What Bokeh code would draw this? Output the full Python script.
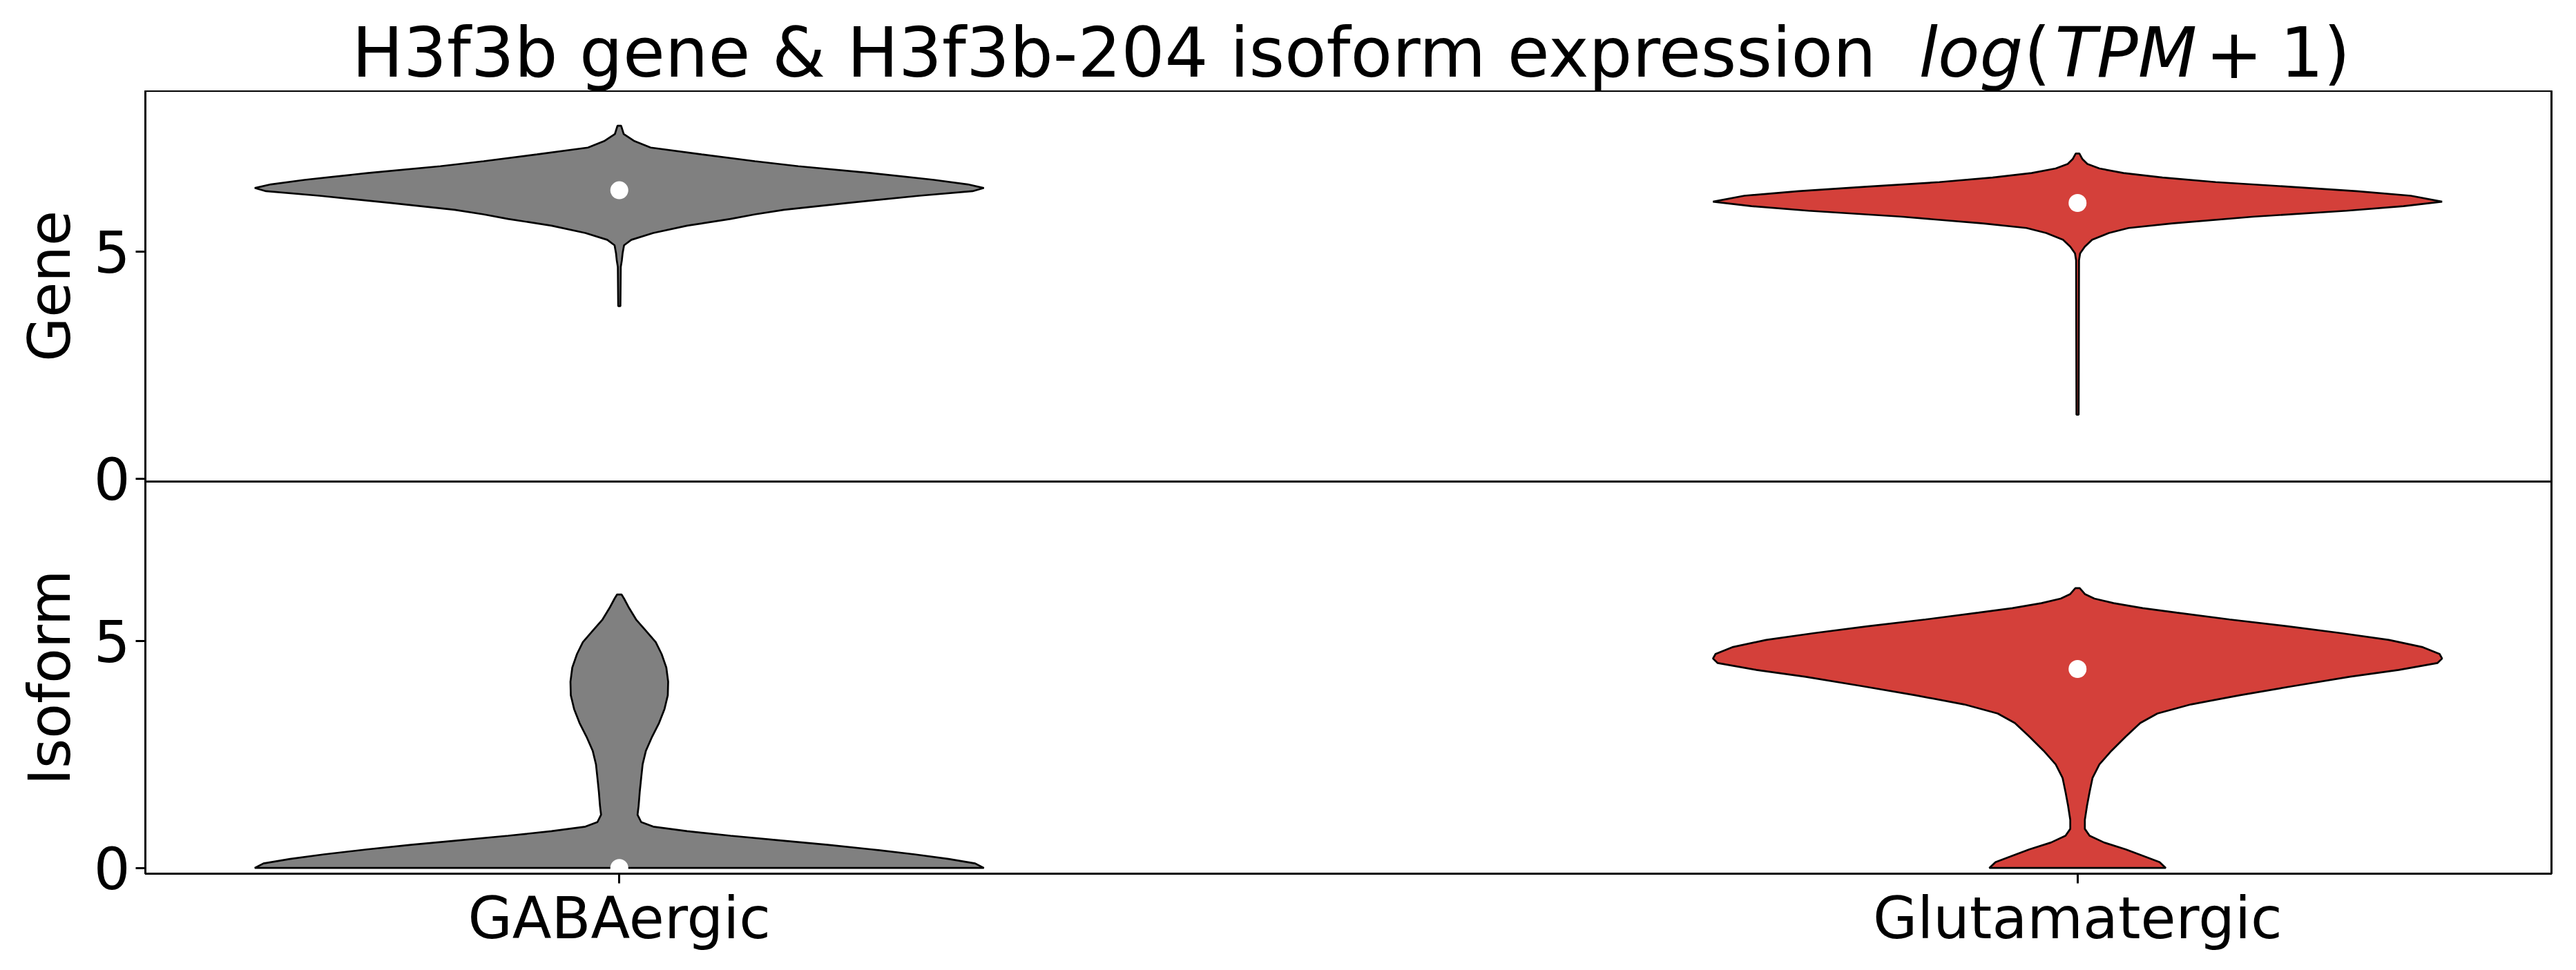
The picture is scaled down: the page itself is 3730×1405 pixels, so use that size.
from bokeh.plotting import figure
from bokeh.layouts import column
from bokeh.models import Range1d, FixedTicker, Span, LinearAxis
from bokeh.core.properties import value
from bokeh.embed import file_html
from bokeh.resources import INLINE

# ---------------- data ----------------
categories = ["GABAergic", "Glutamatergic"]
positions = [0, 1]
colors = ["#808080", "#d4403a"]

# violin outlines: expression value and relative half-width (1 = widest)
gene_gaba_y = [3.80, 4.66, 4.81, 4.96, 5.14, 5.26, 5.41, 5.57, 5.72, 5.82, 5.92, 6.07,
               6.23, 6.33, 6.40, 6.48, 6.58, 6.73, 6.88, 6.99, 7.14, 7.29, 7.44, 7.59, 7.77]
gene_gaba_w = [0.003, 0.004, 0.007, 0.009, 0.013, 0.033, 0.093, 0.186, 0.305, 0.372, 0.452, 0.624,
               0.823, 0.969, 1.0, 0.956, 0.863, 0.69, 0.491, 0.372, 0.226, 0.086, 0.04, 0.012, 0.005]

gene_glut_y = [1.41, 4.81, 4.96, 5.11, 5.26, 5.41, 5.52, 5.62, 5.77, 5.90, 6.00, 6.10,
               6.23, 6.33, 6.43, 6.53, 6.63, 6.73, 6.83, 6.93, 7.04, 7.16]
gene_glut_w = [0.003, 0.004, 0.007, 0.020, 0.040, 0.086, 0.140, 0.259, 0.485, 0.738, 0.894, 1.0,
               0.914, 0.765, 0.578, 0.379, 0.233, 0.126, 0.06, 0.027, 0.013, 0.005]

iso_gaba_y = [0.0, 0.10, 0.20, 0.30, 0.41, 0.51, 0.61, 0.71, 0.81, 0.91, 1.01, 1.17, 1.37,
              1.67, 1.98, 2.28, 2.58, 2.89, 3.19, 3.50, 3.80, 4.10, 4.41, 4.71, 4.97, 5.22,
              5.47, 5.72, 5.93, 6.02]
iso_gaba_w = [1.0, 0.976, 0.903, 0.810, 0.691, 0.571, 0.438, 0.305, 0.186, 0.093, 0.06, 0.050, 0.053,
              0.056, 0.060, 0.064, 0.073, 0.090, 0.109, 0.124, 0.133, 0.134, 0.129, 0.116, 0.10, 0.073,
              0.046, 0.027, 0.013, 0.006]

iso_glut_y = [0.0, 0.13, 0.25, 0.41, 0.56, 0.71, 0.86, 1.06, 1.37, 1.67, 1.98, 2.28, 2.58,
              2.89, 3.19, 3.40, 3.60, 3.80, 4.00, 4.21, 4.36, 4.51, 4.61, 4.71, 4.86, 5.02,
              5.17, 5.32, 5.47, 5.62, 5.72, 5.83, 5.93, 6.03, 6.16]
iso_glut_w = [0.242, 0.225, 0.185, 0.132, 0.073, 0.033, 0.020, 0.020, 0.026, 0.033, 0.041, 0.060, 0.093,
              0.132, 0.172, 0.219, 0.311, 0.444, 0.589, 0.748, 0.881, 0.987, 1.0, 0.993, 0.947, 0.854,
              0.722, 0.576, 0.417, 0.272, 0.179, 0.099, 0.046, 0.02, 0.006]

gene_medians = [6.35, 6.07]
iso_medians = [0.0, 4.38]

panel_labels = ["Gene", "Isoform"]
y_ticks = [0, 5]
title_main = "H3f3b gene & H3f3b-204 isoform expression"
title_math = ["log", "(", "TPM", "+", "1)"]
title_math_italic = [True, False, True, False, False]

# ---------------- layout / styling ----------------
FONT = "DejaVu Sans"
TITLE_SIZE = "99px"
HALF_WIDTH = 0.25
iso_lo, iso_hi = -0.126, 8.506      # lower panel (isoform) limits
gene_lo, gene_hi = -0.061, 8.54     # upper panel (gene) limits
OFF = iso_hi - gene_lo              # gene value v sits at v + OFF on the shared axis

L, R = 210, 36
FW = 3484
TITLE_H = 131
FH = 1134
BOTTOM = 140

p = figure(frame_width=FW, frame_height=FH,
           x_range=Range1d(-0.325, 1.325),
           y_range=Range1d(iso_lo, gene_hi + OFF),
           output_backend="svg", toolbar_location=None,
           min_border_left=L, min_border_right=R, min_border_top=0, min_border_bottom=BOTTOM)
p.extra_y_ranges = {"gene": Range1d(iso_lo - OFF, gene_hi)}
p.grid.visible = False
p.outline_line_color = "black"
p.outline_line_width = 3
p.outline_line_alpha = 1.0


def violin_outline(center, ys, ws):
    xs = [center + HALF_WIDTH * w for w in ws] + [center - HALF_WIDTH * w for w in reversed(ws)]
    yy = list(ys) + list(reversed(ys))
    return xs, yy


for pos, col, (ys, ws) in zip(positions, colors, [(gene_gaba_y, gene_gaba_w), (gene_glut_y, gene_glut_w)]):
    xs, yy = violin_outline(pos, ys, ws)
    p.patch(xs, yy, fill_color=col, line_color="black", line_width=2.7, y_range_name="gene")
p.scatter(x=positions, y=gene_medians, size=26, fill_color="white", line_color=None, y_range_name="gene")

for pos, col, (ys, ws) in zip(positions, colors, [(iso_gaba_y, iso_gaba_w), (iso_glut_y, iso_glut_w)]):
    xs, yy = violin_outline(pos, ys, ws)
    p.patch(xs, yy, fill_color=col, line_color="black", line_width=2.7)
p.scatter(x=positions, y=iso_medians, size=26, fill_color="white", line_color=None)

# separator between the two panels
p.add_layout(Span(location=iso_hi, dimension="width", line_color="black", line_width=3))

# y axis: ticks of both panels
ya = p.yaxis[0]
tick_vals = list(y_ticks) + [t + OFF for t in y_ticks]
ya.ticker = FixedTicker(ticks=tick_vals)
ya.major_label_overrides = {v: str(t) for v, t in zip(tick_vals, y_ticks + y_ticks)}
ya.major_label_text_font = FONT
ya.major_label_text_font_size = "83px"
ya.major_label_text_color = "black"
ya.major_tick_out = 14
ya.major_tick_in = 0
ya.minor_tick_out = 0
ya.minor_tick_in = 0
ya.major_tick_line_width = 3
ya.axis_line_width = 3
ya.major_label_standoff = 8

# panel names, as a second left axis whose two ticks sit at the panel centres
gene_mid = (gene_lo + gene_hi) / 2 + OFF
iso_mid = (iso_lo + iso_hi) / 2
name_axis = LinearAxis(ticker=FixedTicker(ticks=[gene_mid, iso_mid]),
                       major_label_overrides={gene_mid: panel_labels[0], iso_mid: panel_labels[1]},
                       major_label_orientation="vertical",
                       major_label_text_font=FONT, major_label_text_font_size="83px",
                       major_label_text_color="black", major_label_standoff=11,
                       major_tick_out=0, major_tick_in=0, minor_tick_out=0, minor_tick_in=0,
                       major_tick_line_color=None, minor_tick_line_color=None,
                       axis_line_color=None)
p.add_layout(name_axis, "left")

xa = p.xaxis[0]
xa.ticker = FixedTicker(ticks=positions)
xa.major_label_overrides = {pos: cat for pos, cat in zip(positions, categories)}
xa.major_label_text_font = FONT
xa.major_label_text_font_size = "83px"
xa.major_label_text_color = "black"
xa.major_tick_out = 14
xa.major_tick_in = 0
xa.minor_tick_out = 0
xa.minor_tick_in = 0
xa.major_tick_line_width = 3
xa.axis_line_width = 3
xa.major_label_standoff = 2

# ---------------- title strip (x in page pixels) ----------------
tf = figure(frame_width=FW, frame_height=TITLE_H,
            x_range=Range1d(L, L + FW), y_range=Range1d(0, TITLE_H),
            output_backend="svg", toolbar_location=None,
            x_axis_location=None, y_axis_location=None,
            min_border_left=L, min_border_right=R, min_border_top=0, min_border_bottom=0)
tf.grid.visible = False
tf.outline_line_color = None
base = 55
tf.text(x=[509], y=[base], text=[title_main], text_font=value(FONT), text_font_size=TITLE_SIZE,
        text_align="left", text_baseline="alphabetic", text_color="black")
math_x = [2778, 2930, 2975, 3193, 3301]
for txt, ital, xpix in zip(title_math, title_math_italic, math_x):
    tf.text(x=[xpix], y=[base], text=[txt], text_font=value(FONT), text_font_size=TITLE_SIZE,
            text_font_style="italic" if ital else "normal",
            text_align="left", text_baseline="alphabetic", text_color="black")

layout = column(tf, p, spacing=0)
open("out.html", "w").write(file_html(layout, INLINE))
